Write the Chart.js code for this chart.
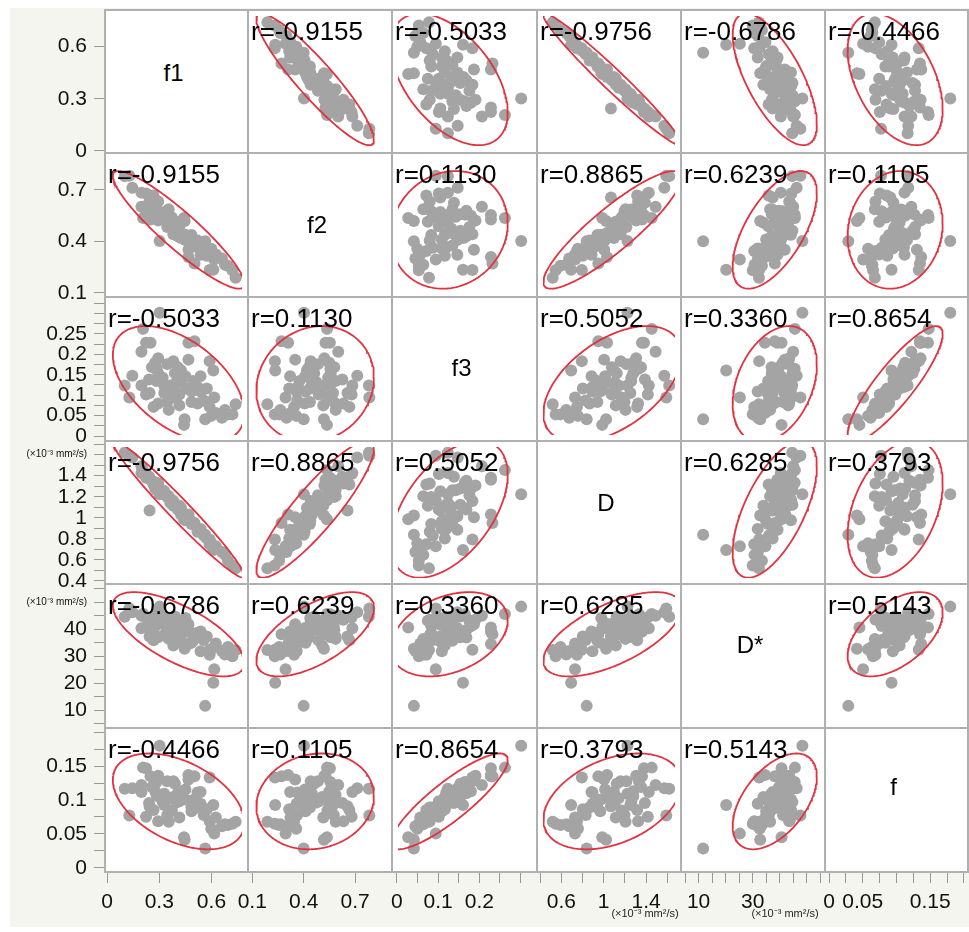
<!DOCTYPE html>
<html>
<head>
<meta charset="utf-8">
<script src="https://cdn.jsdelivr.net/npm/chart.js@4.4.1/dist/chart.umd.min.js"></script>
<style>
body{margin:0;width:969px;height:932px;background:#fff;position:relative;overflow:hidden;font-family:'Liberation Sans',Arial,sans-serif}
#bg{position:absolute;left:10px;top:8px;width:959px;height:919px;background:#f5f5f0}
canvas{position:absolute}
.cell{position:absolute;background:#fff}
.ln{position:absolute;background:#b0b0b0}
.rtxt{position:absolute;font-size:26px;line-height:26px;color:#000;white-space:nowrap}
.diag{position:absolute;font-size:24px;line-height:28px;text-align:center;color:#000}
.unit{position:absolute;font-size:11px;line-height:12px;color:#222;white-space:nowrap;transform:translateX(-50%)}
</style>
</head>
<body>
<div id="bg"></div>
<div id="root"></div>
<script>
// variables
const nombres=['f1','f2','f3','D','D*','f'];

// one value per patient
const f1=[0.293,0.189,0.208,0.179,0.236,0.284,0.265,0.274,0.284,0.122,0.074,0.103,0.179,0.208,0.274,0.312,0.322,0.284,0.255,0.341,
0.379,0.407,0.389,0.427,0.455,0.474,0.474,0.512,0.455,0.493,0.531,0.550,0.570,0.531,0.607,0.589,0.607,0.579,0.617,0.646,
0.703,0.722,0.446,0.417,0.370,0.360,0.398,0.350,0.750,0.684,0.770,0.322,0.427,0.503,0.379,0.550,0.417,0.493,0.245,0.341,
0.636,0.630,0.227,0.230,0.450];
const f2=[0.393,0.540,0.558,0.611,0.530,0.523,0.554,0.561,0.563,0.732,0.806,0.809,0.701,0.696,0.594,0.547,0.558,0.644,0.682,0.583,
0.436,0.424,0.458,0.412,0.400,0.337,0.292,0.250,0.433,0.403,0.353,0.346,0.350,0.397,0.208,0.299,0.330,0.391,0.344,0.307,
0.242,0.235,0.539,0.487,0.542,0.520,0.473,0.595,0.207,0.282,0.160,0.578,0.444,0.365,0.509,0.305,0.516,0.431,0.586,0.482,
0.276,0.210,0.637,0.670,0.520];
const f3=[0.314,0.271,0.234,0.210,0.234,0.193,0.181,0.165,0.153,0.146,0.120,0.088,0.120,0.096,0.132,0.141,0.120,0.072,0.063,0.076,
0.185,0.169,0.153,0.161,0.145,0.189,0.234,0.238,0.112,0.104,0.116,0.104,0.080,0.072,0.185,0.112,0.063,0.030,0.039,0.047,
0.055,0.043,0.015,0.096,0.088,0.120,0.129,0.055,0.043,0.034,0.070,0.100,0.129,0.132,0.112,0.145,0.067,0.076,0.169,0.177,
0.088,0.160,0.136,0.100,0.030];
const valD=[1.24,1.49,1.41,1.53,1.39,1.33,1.30,1.36,1.30,1.62,1.67,1.64,1.46,1.45,1.28,1.28,1.24,1.35,1.34,1.21,
1.17,1.08,1.13,1.10,1.01,1.00,1.03,0.94,0.97,0.96,0.88,0.88,0.81,0.85,0.77,0.78,0.72,0.82,0.73,0.70,
0.61,0.55,0.98,1.08,1.18,1.15,1.11,1.22,0.50,0.64,0.47,1.27,1.03,0.93,1.12,0.87,1.12,0.93,1.38,1.23,
0.70,0.66,1.42,1.07,1.02];
const valDstar=[50.0,47.0,41.6,46.3,39.9,44.7,42.1,46.9,37.7,47.7,45.9,49.2,41.3,45.6,37.9,46.0,38.7,44.7,36.4,42.2,
44.3,37.6,46.0,38.1,41.4,42.9,34.9,38.9,45.4,35.4,39.5,32.0,36.5,38.5,32.6,38.0,30.6,10.0,32.8,35.1,
30.7,33.7,41.6,36.3,45.5,38.8,40.8,37.0,30.0,32.1,32.5,42.7,43.1,36.2,34.3,40.0,44.3,39.4,40.6,44.2,
24.8,19.3,45.1,38.0,33.0];
const valF=[0.187,0.152,0.151,0.124,0.138,0.139,0.114,0.129,0.106,0.119,0.118,0.075,0.113,0.073,0.108,0.097,0.110,0.066,0.084,0.076,
0.130,0.111,0.126,0.113,0.117,0.133,0.140,0.138,0.101,0.082,0.112,0.094,0.076,0.088,0.136,0.085,0.066,0.022,0.054,0.072,
0.061,0.060,0.040,0.098,0.083,0.103,0.096,0.065,0.062,0.058,0.065,0.092,0.110,0.100,0.105,0.113,0.072,0.088,0.121,0.130,
0.046,0.092,0.095,0.090,0.036];

// r printed in each cell (upper triangle, row by row)
const rValores=[-0.9155,-0.5033,-0.9756,-0.6786,-0.4466,
0.1130,0.8865,0.6239,0.1105,
0.5052,0.3360,0.8654,
0.6285,0.3793,
0.5143];

// axis ranges and ticks
const ejeMin=[-0.012,0.075,-0.012,0.37,3.5,-0.006];
const ejeMax=[0.81,0.915,0.34,1.73,56.7,0.206];
const yTicks=[[0,0.3,0.6],[0.1,0.4,0.7],
[0,0.025,0.05,0.075,0.1,0.125,0.15,0.175,0.2,0.225,0.25,0.275,0.3,0.325],
[0.4,0.5,0.6,0.7,0.8,0.9,1,1.1,1.2,1.3,1.4,1.5,1.6,1.7],
[5,10,15,20,25,30,35,40,45,50,55],
[0,0.025,0.05,0.075,0.1,0.125,0.15,0.175,0.2]];
const yLabels=[[0,0.3,0.6],[0.1,0.4,0.7],[0,0.05,0.1,0.15,0.2,0.25],[0.4,0.6,0.8,1,1.2,1.4],[10,20,30,40],[0,0.05,0.1,0.15]];
const yUnidad=[null,null,null,1.6,50,null];
const xTicks=[[0,0.3,0.6],[0.1,0.4,0.7],[0,0.05,0.1,0.15,0.2,0.25,0.3],[0.4,0.6,0.8,1,1.2,1.4,1.6],
[5,10,15,20,25,30,35,40,45,50,55],[0,0.025,0.05,0.075,0.1,0.125,0.15,0.175,0.2]];
const xLabels=[[0,0.3,0.6],[0.1,0.4,0.7],[0,0.1,0.2],[0.6,1,1.4],[10,30],[0,0.05,0.15]];
const UNIDAD='(\u00d710\u207b\u00b3 mm\u00b2/s)';

const datos=[f1,f2,f3,valD,valDstar,valF];
const colE=[105,248,392,537,681,825,968];
const rowE=[10,153,297,441,584,728,872];
const diagTop=[49,58,57,48,47,45];
const FUENTE='Liberation Sans';
const root=document.getElementById('root');

function corr(i,j){
	let a=Math.min(i,j),b=Math.max(i,j),k=0;
	for(let p=0;p<a;p++){k+=5-p;}
	return rValores[k+(b-a-1)];
}
function media(v){return v.reduce((s,x)=>s+x,0)/v.length;}
function desv(v){let m=media(v);return Math.sqrt(v.reduce((s,x)=>s+(x-m)*(x-m),0)/(v.length-1));}
function igual(a,b){return Math.abs(a-b)<1e-9;}
function fmt(v){return String(parseFloat(v.toFixed(4)));}

function escala(k,eje,mostrar){
	let pos=eje=='x'?xTicks[k]:yTicks[k];
	let lab=eje=='x'?xLabels[k]:yLabels[k];
	let uni=eje=='y'?yUnidad[k]:null;
	return {
		type:'linear',min:ejeMin[k],max:ejeMax[k],display:mostrar,
		position:eje=='x'?'bottom':'left',
		border:{display:false},
		grid:{drawOnChartArea:false,drawTicks:true,tickLength:11,color:'#999',lineWidth:1},
		ticks:{
			autoSkip:false,maxRotation:0,minRotation:0,padding:7,color:'#111',
			font:function(c){
				if(uni!==null&&c.tick&&igual(c.tick.value,uni)) return {family:FUENTE,size:10};
				return {family:FUENTE,size:21};
			},
			callback:function(v){
				if(lab.some(l=>igual(l,v))) return fmt(v);
				if(uni!==null&&igual(v,uni)) return UNIDAD;
				return '';
			}
		},
		afterBuildTicks:function(s){s.ticks=pos.map(v=>({value:v}));},
		afterFit:function(s){
			if(!mostrar){s.width=0;s.height=0;}
			else if(eje=='x'){s.height=60;}else{s.width=105;}
			s.paddingLeft=0;s.paddingRight=0;s.paddingTop=0;s.paddingBottom=0;
		}
	};
}

function lienzo(x,y,w,h){
	let c=document.createElement('canvas');
	c.width=w;c.height=h;
	c.style.left=x+'px';c.style.top=y+'px';
	c.style.width=w+'px';c.style.height=h+'px';
	root.appendChild(c);
	return c.getContext('2d');
}

// white cells
for(let i=0;i<6;i++){
	for(let j=0;j<6;j++){
		let d=document.createElement('div');
		d.className='cell';
		d.style.left=colE[j]+'px';d.style.top=rowE[i]+'px';
		d.style.width=(colE[j+1]-colE[j])+'px';d.style.height=(rowE[i+1]-rowE[i])+'px';
		root.appendChild(d);
	}
}

// scatter cells
for(let i=0;i<6;i++){
	for(let j=0;j<6;j++){
		if(i==j) continue;
		let xs=datos[j],ys=datos[i];
		let puntos=xs.map((x,n)=>({x:x,y:ys[n]}));
		// 95% density ellipse
		let mx=media(xs),my=media(ys),sx=desv(xs),sy=desv(ys),r=corr(i,j);
		let c=Math.sqrt(5.991),elipse=[];
		for(let t=0;t<=180;t++){
			let a=t/180*2*Math.PI;
			elipse.push({x:mx+c*sx*Math.cos(a),y:my+c*sy*(r*Math.cos(a)+Math.sqrt(1-r*r)*Math.sin(a))});
		}
		let ctx=lienzo(colE[j],rowE[i],colE[j+1]-colE[j],rowE[i+1]-rowE[i]);
		new Chart(ctx,{
			type:'scatter',
			data:{datasets:[
				{data:elipse,showLine:true,borderColor:'#e2323f',borderWidth:1.8,pointRadius:0,fill:false,tension:0,order:0},
				{data:puntos,backgroundColor:'#a4a4a4',borderWidth:0,pointRadius:6,order:1}
			]},
			options:{
				responsive:false,animation:false,devicePixelRatio:1,
				layout:{padding:0},
				plugins:{legend:{display:false},tooltip:{enabled:false}},
				scales:{x:escala(j,'x',false),y:escala(i,'y',false)}
			}
		});
		let t=document.createElement('div');
		t.className='rtxt';
		t.textContent='r='+r.toFixed(4);
		t.style.left=(colE[j]+3)+'px';t.style.top=(rowE[i]+8)+'px';
		root.appendChild(t);
	}
	let d=document.createElement('div');
	d.className='diag';
	d.textContent=nombres[i];
	d.style.left=(colE[i]-3)+'px';d.style.width=(colE[i+1]-colE[i])+'px';
	d.style.top=(rowE[i]+diagTop[i])+'px';
	root.appendChild(d);
}

// left axes
for(let i=0;i<6;i++){
	let h=rowE[i+1]-rowE[i];
	let ctx=lienzo(0,rowE[i]-20,107,h+40);
	new Chart(ctx,{
		type:'scatter',data:{datasets:[]},
		options:{responsive:false,animation:false,devicePixelRatio:1,
			layout:{padding:{top:20,bottom:20,left:0,right:0}},
			plugins:{legend:{display:false},tooltip:{enabled:false}},
			scales:{x:escala(0,'x',false),y:escala(i,'y',true)}}
	});
}
// bottom axes
for(let j=0;j<6;j++){
	let w=colE[j+1]-colE[j];
	let ctx=lienzo(colE[j]-30,rowE[6]-2,w+60,62);
	new Chart(ctx,{
		type:'scatter',data:{datasets:[]},
		options:{responsive:false,animation:false,devicePixelRatio:1,
			layout:{padding:{top:0,bottom:0,left:30,right:30}},
			plugins:{legend:{display:false},tooltip:{enabled:false}},
			scales:{x:escala(j,'x',true),y:escala(0,'y',false)}}
	});
}

// unit notes under D and D*
[[645,'D'],[785,'D*']].forEach(u=>{
	let d=document.createElement('div');
	d.className='unit';d.textContent=UNIDAD;
	d.style.left=u[0]+'px';d.style.top='907px';
	root.appendChild(d);
});

// grid lines
colE.forEach(x=>{
	let d=document.createElement('div');d.className='ln';
	d.style.left=(x-1)+'px';d.style.top=(rowE[0]-1)+'px';d.style.width='2px';d.style.height=(rowE[6]-rowE[0]+2)+'px';
	root.appendChild(d);
});
rowE.forEach(y=>{
	let d=document.createElement('div');d.className='ln';
	d.style.left=(colE[0]-1)+'px';d.style.top=(y-1)+'px';d.style.height='2px';d.style.width=(colE[6]-colE[0]+2)+'px';
	root.appendChild(d);
});
</script>
</body>
</html>
